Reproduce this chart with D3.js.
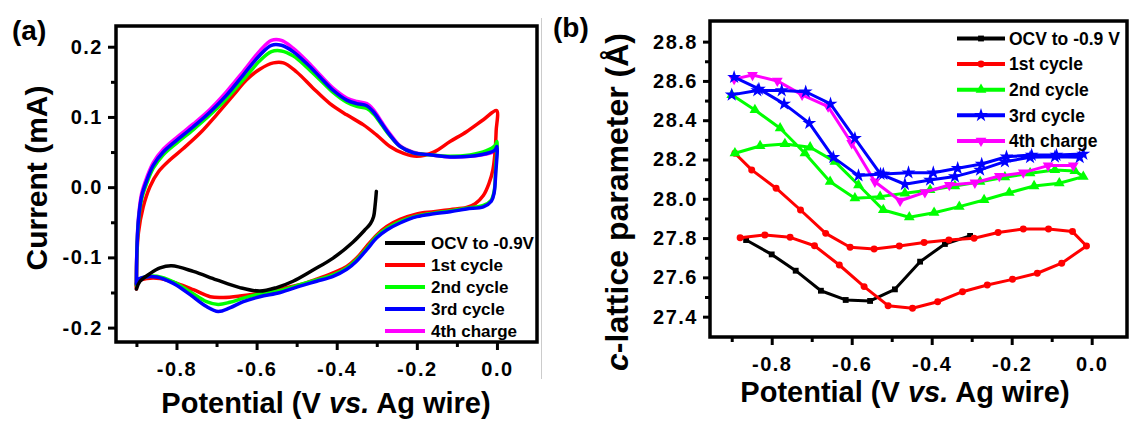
<!DOCTYPE html>
<html>
<head>
  <title>CV and c-lattice parameter</title>
  <script src="https://d3js.org/d3.v7.min.js"></script>
  <style>
    body { margin: 0; background: #fff; }
    text { font-family: "Liberation Sans", Arial, sans-serif; font-weight: bold; fill: #000; }
    .tick text { font-size: 20px; letter-spacing: 1.5px; }
    .tick line { stroke: #000; stroke-width: 3px; }
    .domain { display: none; }
    .curve { fill: none; stroke-linejoin: round; stroke-linecap: round; }
  </style>
</head>
<body>
  <svg width="1129" height="421"></svg>

  <script>
    // ---- shared categories ----
    const seriesNames = ['OCV to -0.9V', '1st cycle', '2nd cycle', '3rd cycle', '4th charge'];
    const seriesNamesB = ['OCV to -0.9 V', '1st cycle', '2nd cycle', '3rd cycle', '4th charge'];
    const seriesColors = ['#000000', '#ff0000', '#00ff00', '#0000ff', '#ff00ff'];

    // ---- panel (a): cyclic voltammetry, [potential V, current mA] ----
    const ocvA = [[-0.301,-0.006],[-0.304,-0.025],[-0.308,-0.042],[-0.316,-0.052],[-0.330,-0.061],
      [-0.359,-0.078],[-0.409,-0.101],[-0.459,-0.118],[-0.509,-0.134],[-0.550,-0.143],[-0.592,-0.148],
      [-0.642,-0.143],[-0.700,-0.132],[-0.758,-0.120],[-0.812,-0.112],[-0.841,-0.115],[-0.866,-0.123],
      [-0.891,-0.134],[-0.900,-0.145]];
    const cycle1A = [[-0.900,-0.145],[-0.899,-0.100],[-0.895,-0.065],[-0.883,-0.028],[-0.866,0.001],
      [-0.845,0.022],[-0.816,0.039],[-0.783,0.055],[-0.741,0.077],[-0.700,0.103],[-0.658,0.131],
      [-0.625,0.153],[-0.592,0.168],[-0.558,0.177],[-0.533,0.177],[-0.500,0.164],[-0.459,0.141],
      [-0.417,0.119],[-0.375,0.103],[-0.334,0.089],[-0.300,0.074],[-0.267,0.058],[-0.233,0.048],
      [-0.200,0.044],[-0.158,0.050],[-0.117,0.065],[-0.076,0.079],[-0.034,0.096],[-0.001,0.109],
      [-0.002,0.080],[-0.005,0.048],[-0.010,0.025],[-0.020,0.005],[-0.034,-0.012],[-0.055,-0.024],
      [-0.076,-0.029],[-0.117,-0.032],[-0.158,-0.035],[-0.200,-0.038],[-0.242,-0.046],[-0.275,-0.056],
      [-0.300,-0.068],[-0.325,-0.084],[-0.350,-0.101],[-0.375,-0.113],[-0.409,-0.122],[-0.450,-0.131],
      [-0.492,-0.139],[-0.541,-0.145],[-0.592,-0.151],[-0.642,-0.155],[-0.683,-0.157],[-0.716,-0.156],
      [-0.758,-0.146],[-0.799,-0.137],[-0.841,-0.130],[-0.874,-0.130],[-0.899,-0.135],[-0.900,-0.145]];
    const cycle2A = [[-0.900,-0.140],[-0.899,-0.096],[-0.895,-0.050],[-0.887,-0.017],[-0.874,0.006],
      [-0.858,0.027],[-0.833,0.046],[-0.799,0.063],[-0.758,0.082],[-0.716,0.103],[-0.675,0.126],
      [-0.633,0.153],[-0.592,0.180],[-0.563,0.193],[-0.538,0.194],[-0.509,0.187],[-0.475,0.171],
      [-0.442,0.153],[-0.409,0.135],[-0.375,0.121],[-0.350,0.115],[-0.325,0.112],[-0.308,0.104],
      [-0.288,0.089],[-0.267,0.073],[-0.242,0.058],[-0.209,0.049],[-0.167,0.046],[-0.117,0.044],
      [-0.067,0.046],[-0.026,0.052],[-0.005,0.059],[0.000,0.065],[-0.003,0.030],[-0.007,-0.006],
      [-0.015,-0.019],[-0.034,-0.026],[-0.076,-0.030],[-0.117,-0.034],[-0.158,-0.037],[-0.200,-0.041],
      [-0.242,-0.049],[-0.275,-0.059],[-0.300,-0.070],[-0.325,-0.087],[-0.350,-0.103],[-0.375,-0.115],
      [-0.409,-0.125],[-0.450,-0.132],[-0.492,-0.139],[-0.541,-0.147],[-0.592,-0.152],[-0.633,-0.158],
      [-0.667,-0.164],[-0.696,-0.167],[-0.725,-0.163],[-0.766,-0.149],[-0.808,-0.135],[-0.849,-0.127],
      [-0.878,-0.128],[-0.899,-0.134],[-0.900,-0.140]];
    const cycle3A = [[-0.900,-0.138],[-0.899,-0.094],[-0.895,-0.047],[-0.887,-0.013],[-0.874,0.010],
      [-0.858,0.031],[-0.833,0.050],[-0.799,0.067],[-0.758,0.086],[-0.716,0.107],[-0.675,0.131],
      [-0.633,0.160],[-0.592,0.188],[-0.563,0.202],[-0.538,0.202],[-0.509,0.193],[-0.475,0.176],
      [-0.442,0.157],[-0.409,0.138],[-0.375,0.124],[-0.350,0.119],[-0.325,0.116],[-0.308,0.107],
      [-0.288,0.091],[-0.267,0.074],[-0.242,0.058],[-0.209,0.049],[-0.167,0.046],[-0.117,0.043],
      [-0.067,0.044],[-0.026,0.048],[-0.005,0.053],[0.000,0.058],[-0.003,0.020],[-0.007,-0.008],
      [-0.014,-0.020],[-0.034,-0.028],[-0.076,-0.031],[-0.117,-0.035],[-0.158,-0.038],[-0.200,-0.042],
      [-0.242,-0.051],[-0.275,-0.061],[-0.300,-0.072],[-0.325,-0.089],[-0.350,-0.105],[-0.375,-0.117],
      [-0.409,-0.127],[-0.450,-0.134],[-0.492,-0.141],[-0.541,-0.150],[-0.592,-0.156],[-0.633,-0.163],
      [-0.667,-0.172],[-0.696,-0.177],[-0.725,-0.170],[-0.766,-0.153],[-0.808,-0.137],[-0.849,-0.128],
      [-0.878,-0.128],[-0.899,-0.133],[-0.900,-0.138]];
    const charge4A = [[-0.900,-0.140],[-0.899,-0.092],[-0.895,-0.044],[-0.887,-0.009],[-0.874,0.014],
      [-0.858,0.035],[-0.833,0.054],[-0.799,0.071],[-0.758,0.090],[-0.716,0.111],[-0.675,0.136],
      [-0.633,0.165],[-0.592,0.194],[-0.563,0.209],[-0.538,0.209],[-0.509,0.198],[-0.475,0.180],
      [-0.442,0.160],[-0.409,0.141],[-0.375,0.127],[-0.350,0.122],[-0.325,0.119],[-0.308,0.110],
      [-0.288,0.093],[-0.267,0.076],[-0.242,0.059],[-0.209,0.050],[-0.167,0.046],[-0.117,0.043],
      [-0.067,0.044],[-0.026,0.047],[-0.005,0.051],[0.000,0.054]];

    // ---- panel (b): c-lattice parameter, [potential V, c (Å)] ----
    const ocvB = [[-0.304,27.811],[-0.367,27.770],[-0.429,27.680],[-0.492,27.539],[-0.554,27.480],
      [-0.615,27.485],[-0.677,27.532],[-0.740,27.634],[-0.800,27.717],[-0.864,27.790]];
    const cycle1B = [[-0.879,27.802],[-0.817,27.816],[-0.754,27.804],[-0.693,27.761],[-0.631,27.663],
      [-0.569,27.553],[-0.509,27.456],[-0.448,27.443],[-0.385,27.476],[-0.323,27.527],[-0.261,27.561],
      [-0.198,27.590],[-0.136,27.621],[-0.075,27.672],[-0.013,27.760],[-0.048,27.833],[-0.108,27.846],
      [-0.171,27.846],[-0.234,27.828],[-0.294,27.799],[-0.357,27.790],[-0.419,27.777],[-0.481,27.760],
      [-0.544,27.744],[-0.604,27.753],[-0.665,27.824],[-0.728,27.943],[-0.789,28.054],[-0.850,28.147],
      [-0.892,28.232]];
    const cycle2B = [[-0.892,28.232],[-0.829,28.269],[-0.767,28.279],[-0.704,28.262],[-0.642,28.189],
      [-0.583,28.070],[-0.521,27.943],[-0.456,27.906],[-0.394,27.929],[-0.331,27.960],[-0.269,27.994],
      [-0.206,28.031],[-0.144,28.065],[-0.081,28.079],[-0.021,28.113],[-0.042,28.142],[-0.092,28.147],
      [-0.154,28.130],[-0.217,28.110],[-0.279,28.087],[-0.342,28.065],[-0.404,28.045],[-0.467,28.028],
      [-0.529,28.011],[-0.592,28.003],[-0.654,28.087],[-0.717,28.232],[-0.779,28.359],[-0.842,28.452],
      [-0.900,28.529]];
    const cycle3B = [[-0.900,28.529],[-0.836,28.551],[-0.775,28.551],[-0.715,28.545],[-0.653,28.483],
      [-0.592,28.308],[-0.528,28.126],[-0.467,28.074],[-0.404,28.096],[-0.342,28.113],[-0.279,28.147],
      [-0.217,28.189],[-0.154,28.211],[-0.092,28.214],[-0.030,28.211],[-0.021,28.228],[-0.088,28.223],
      [-0.150,28.223],[-0.213,28.214],[-0.275,28.177],[-0.335,28.155],[-0.396,28.133],[-0.458,28.133],
      [-0.521,28.126],[-0.583,28.118],[-0.646,28.211],[-0.706,28.385],[-0.769,28.483],[-0.832,28.559],
      [-0.894,28.619]];
    const charge4B = [[-0.894,28.609],[-0.848,28.630],[-0.786,28.600],[-0.724,28.529],[-0.659,28.469],
      [-0.600,28.283],[-0.542,28.087],[-0.479,27.990],[-0.417,28.033],[-0.356,28.070],[-0.292,28.082],
      [-0.231,28.116],[-0.171,28.133],[-0.109,28.169],[-0.046,28.169]];

    // ---- tick values ----
    const xMajor = [-0.8, -0.6, -0.4, -0.2, 0.0];
    const xMinor = [-0.9, -0.7, -0.5, -0.3, -0.1];
    const yMajorA = [-0.2, -0.1, 0.0, 0.1, 0.2];
    const yMinorA = [-0.15, -0.05, 0.05, 0.15];
    const yMajorB = [27.4, 27.6, 27.8, 28.0, 28.2, 28.4, 28.6, 28.8];
    const yMinorB = [27.5, 27.7, 27.9, 28.1, 28.3, 28.5, 28.7];

    const svg = d3.select('svg');
    const fmt = d => d.toFixed(1);

    // thin grey edge left in the source image
    svg.append('line').attr('x1', 541.5).attr('x2', 541.5).attr('y1', 18).attr('y2', 379)
      .attr('stroke', '#cccccc').attr('stroke-width', 1);

    function drawAxes(g, x, y, box, yMajor, yMinor, ySize) {
      g.append('g').attr('transform', `translate(0,${box.bottom})`)
        .call(d3.axisBottom(x).tickValues(xMajor).tickFormat(fmt).tickSize(8).tickPadding(12));
      g.append('g').attr('transform', `translate(0,${box.bottom})`)
        .call(d3.axisBottom(x).tickValues(xMinor).tickFormat('').tickSize(5));
      g.append('g').attr('transform', `translate(${box.left},0)`)
        .call(d3.axisLeft(y).tickValues(yMajor).tickFormat(fmt).tickSize(ySize).tickPadding(5));
      g.append('g').attr('transform', `translate(${box.left},0)`)
        .call(d3.axisLeft(y).tickValues(yMinor).tickFormat('').tickSize(5));
      g.append('rect')
        .attr('x', box.left).attr('y', box.top)
        .attr('width', box.right - box.left).attr('height', box.bottom - box.top)
        .attr('fill', 'none').attr('stroke', '#000').attr('stroke-width', 3.5);
    }

    // ================= panel (a) =================
    const boxA = { left: 116, right: 537, top: 26, bottom: 342 };
    const xA = d3.scaleLinear().domain([-0.951, 0.1]).range([boxA.left, boxA.right]);
    const yA = d3.scaleLinear().domain([-0.2205, 0.2295]).range([boxA.bottom, boxA.top]);
    const gA = svg.append('g');

    const lineA = d3.line().x(d => xA(d[0])).y(d => yA(d[1])).curve(d3.curveCatmullRom.alpha(0.5));
    const drawOrderA = [
      { data: charge4A, color: seriesColors[4] },
      { data: cycle1A, color: seriesColors[1] },
      { data: cycle2A, color: seriesColors[2] },
      { data: cycle3A, color: seriesColors[3] },
      { data: ocvA, color: seriesColors[0] }
    ];
    gA.selectAll('path.curve').data(drawOrderA).enter().append('path')
      .attr('class', 'curve')
      .attr('d', d => lineA(d.data))
      .attr('stroke', d => d.color)
      .attr('stroke-width', 3.5);

    drawAxes(gA, xA, yA, boxA, yMajorA, yMinorA, 8);

    const legA = gA.append('g').selectAll('g').data(seriesNames).enter().append('g')
      .attr('transform', (d, i) => `translate(0,${243 + i * 22})`);
    legA.append('line').attr('x1', 385).attr('x2', 425)
      .attr('stroke', (d, i) => seriesColors[i]).attr('stroke-width', 4);
    legA.append('text').attr('x', 431).attr('dy', '0.36em')
      .style('font-size', '17px').text(d => d);

    gA.append('text').attr('x', 12).attr('y', 40).style('font-size', '28px').text('(a)');
    gA.append('text').attr('transform', 'translate(47,178) rotate(-90)')
      .attr('text-anchor', 'middle').style('font-size', '30px').text('Current (mA)');
    const xtA = gA.append('text').attr('x', 326).attr('y', 413)
      .attr('text-anchor', 'middle').style('font-size', '29px');
    xtA.append('tspan').text('Potential (V ');
    xtA.append('tspan').style('font-style', 'italic').text('vs.');
    xtA.append('tspan').text(' Ag wire)');

    // ================= panel (b) =================
    const boxB = { left: 710, right: 1127, top: 21, bottom: 337 };
    const xB = d3.scaleLinear().domain([-0.9543, 0.0883]).range([boxB.left, boxB.right]);
    const yB = d3.scaleLinear().domain([27.2965, 28.905]).range([boxB.bottom, boxB.top]);
    const gB = svg.append('g');

    const lineB = d3.line().x(d => xB(d[0])).y(d => yB(d[1]));
    const symbolsB = [
      { type: d3.symbolSquare, size: 34, rot: 0 },
      { type: d3.symbolCircle, size: 38, rot: 0 },
      { type: d3.symbolTriangle, size: 50, rot: 0 },
      { type: d3.symbolStar, size: 60, rot: 0 },
      { type: d3.symbolTriangle, size: 50, rot: 180 }
    ];
    const seriesB = [ocvB, cycle1B, cycle2B, cycle3B, charge4B];
    const drawOrderB = [0, 1, 2, 4, 3];

    drawOrderB.forEach(k => {
      const g = gB.append('g');
      g.append('path').attr('class', 'curve')
        .attr('d', lineB(seriesB[k]))
        .attr('stroke', seriesColors[k]).attr('stroke-width', 3);
      g.selectAll('path.mk').data(seriesB[k]).enter().append('path')
        .attr('class', 'mk')
        .attr('d', d3.symbol().type(symbolsB[k].type).size(symbolsB[k].size))
        .attr('transform', d => `translate(${xB(d[0])},${yB(d[1])}) rotate(${symbolsB[k].rot})`)
        .attr('fill', seriesColors[k]);
    });

    drawAxes(gB, xB, yB, boxB, yMajorB, yMinorB, 7);

    const legB = gB.append('g').selectAll('g').data(seriesNamesB).enter().append('g')
      .attr('transform', (d, i) => `translate(0,${38.5 + i * 25.6})`);
    legB.append('line').attr('x1', 957).attr('x2', 1005)
      .attr('stroke', (d, i) => seriesColors[i]).attr('stroke-width', 4);
    legB.append('path')
      .attr('d', (d, i) => d3.symbol().type(symbolsB[i].type).size(symbolsB[i].size)())
      .attr('transform', (d, i) => `translate(981,0) rotate(${symbolsB[i].rot})`)
      .attr('fill', (d, i) => seriesColors[i]);
    legB.append('text').attr('x', 1009).attr('dy', '0.36em')
      .style('font-size', '17.5px').text(d => d);

    gB.append('text').attr('x', 553).attr('y', 37).style('font-size', '28px').text('(b)');
    const ytB = gB.append('text').attr('transform', 'translate(628,202) rotate(-90)')
      .attr('text-anchor', 'middle').style('font-size', '32px');
    ytB.append('tspan').style('font-style', 'italic').text('c');
    ytB.append('tspan').text('-lattice parameter (Å)');
    const xtB = gB.append('text').attr('x', 905).attr('y', 402)
      .attr('text-anchor', 'middle').style('font-size', '29px');
    xtB.append('tspan').text('Potential (V ');
    xtB.append('tspan').style('font-style', 'italic').text('vs.');
    xtB.append('tspan').text(' Ag wire)');
  </script>
</body>
</html>
